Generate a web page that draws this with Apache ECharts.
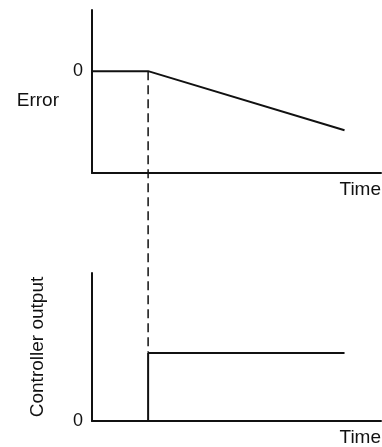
<!DOCTYPE html>
<html>
<head>
<meta charset="utf-8">
<script src="https://cdn.jsdelivr.net/npm/echarts@6/dist/echarts.min.js"></script>
<style>
  html, body { margin: 0; padding: 0; background: #fff; }
  #chart { width: 382px; height: 447px; }
</style>
</head>
<body>
<div id="chart"></div>
<script>
// time points (arbitrary units) and values
const errorTime = [0, 2, 9]
const errorValue = [0, 0, -0.58]
const outputTime = [2, 2, 9]
const outputValue = [0, 0.46, 0.46]
// dashed guide at the step instant, from error 0 down to the output step
const guideTime = [2, 2]
const guideValue = [0, -2.76]

const pairs = (xs, ys) => xs.map((x, i) => [x, ys[i]])

const ink = '#111'
const font = 'Liberation Sans, Arial, sans-serif'

const myChart = echarts.init(document.getElementById('chart'))

const baseX = {
  type: 'value',
  min: 0,
  max: 10.3,
  axisLine: { onZero: false, lineStyle: { color: ink, width: 2 } },
  axisTick: { show: false },
  axisLabel: { show: false },
  splitLine: { show: false },
  name: 'Time',
  nameLocation: 'end',
  nameGap: 0,
  nameTextStyle: {
    color: ink,
    fontFamily: font,
    fontSize: 19,
    align: 'right',
    verticalAlign: 'top',
    padding: [7, 0, 0, 0]
  }
}

const option = {
  animation: false,
  grid: [
    { left: 92, right: 0, top: 10, height: 163 },
    { left: 92, right: 0, top: 273, height: 149 }
  ],
  xAxis: [
    Object.assign({ gridIndex: 0 }, baseX),
    Object.assign({ gridIndex: 1 }, baseX)
  ],
  yAxis: [
    {
      gridIndex: 0,
      type: 'value',
      min: -1,
      max: 0.6,
      interval: 1,
      axisLine: { show: true, onZero: false, lineStyle: { color: ink, width: 2 } },
      axisTick: { show: false },
      splitLine: { show: false },
      axisLabel: {
        color: ink,
        fontFamily: font,
        fontSize: 18,
        margin: 9,
        formatter: v => (v === 0 ? '0' : '')
      },
      name: 'Error',
      nameLocation: 'middle',
      nameRotate: 0,
      nameGap: 33,
      nameTextStyle: {
        color: ink,
        fontFamily: font,
        fontSize: 19,
        verticalAlign: 'top'
      }
    },
    {
      gridIndex: 1,
      type: 'value',
      min: 0,
      max: 1,
      interval: 1,
      axisLine: { show: true, onZero: false, lineStyle: { color: ink, width: 2 } },
      axisTick: { show: false },
      splitLine: { show: false },
      axisLabel: {
        color: ink,
        fontFamily: font,
        fontSize: 18,
        margin: 9,
        formatter: v => (v === 0 ? '0' : '')
      },
      name: 'Controller output',
      nameLocation: 'middle',
      nameGap: 45,
      nameTextStyle: {
        color: ink,
        fontFamily: font,
        fontSize: 19
      }
    }
  ],
  series: [
    {
      name: 'Error',
      type: 'line',
      xAxisIndex: 0,
      yAxisIndex: 0,
      symbol: 'none',
      lineStyle: { color: ink, width: 2 },
      data: pairs(errorTime, errorValue)
    },
    {
      name: 'Guide',
      type: 'line',
      xAxisIndex: 0,
      yAxisIndex: 0,
      symbol: 'none',
      clip: false,
      lineStyle: { color: ink, width: 1.5, type: [9, 5] },
      data: pairs(guideTime, guideValue)
    },
    {
      name: 'Controller output',
      type: 'line',
      xAxisIndex: 1,
      yAxisIndex: 1,
      symbol: 'none',
      lineStyle: { color: ink, width: 2 },
      data: pairs(outputTime, outputValue)
    }
  ]
}
myChart.setOption(option)
</script>
</body>
</html>
